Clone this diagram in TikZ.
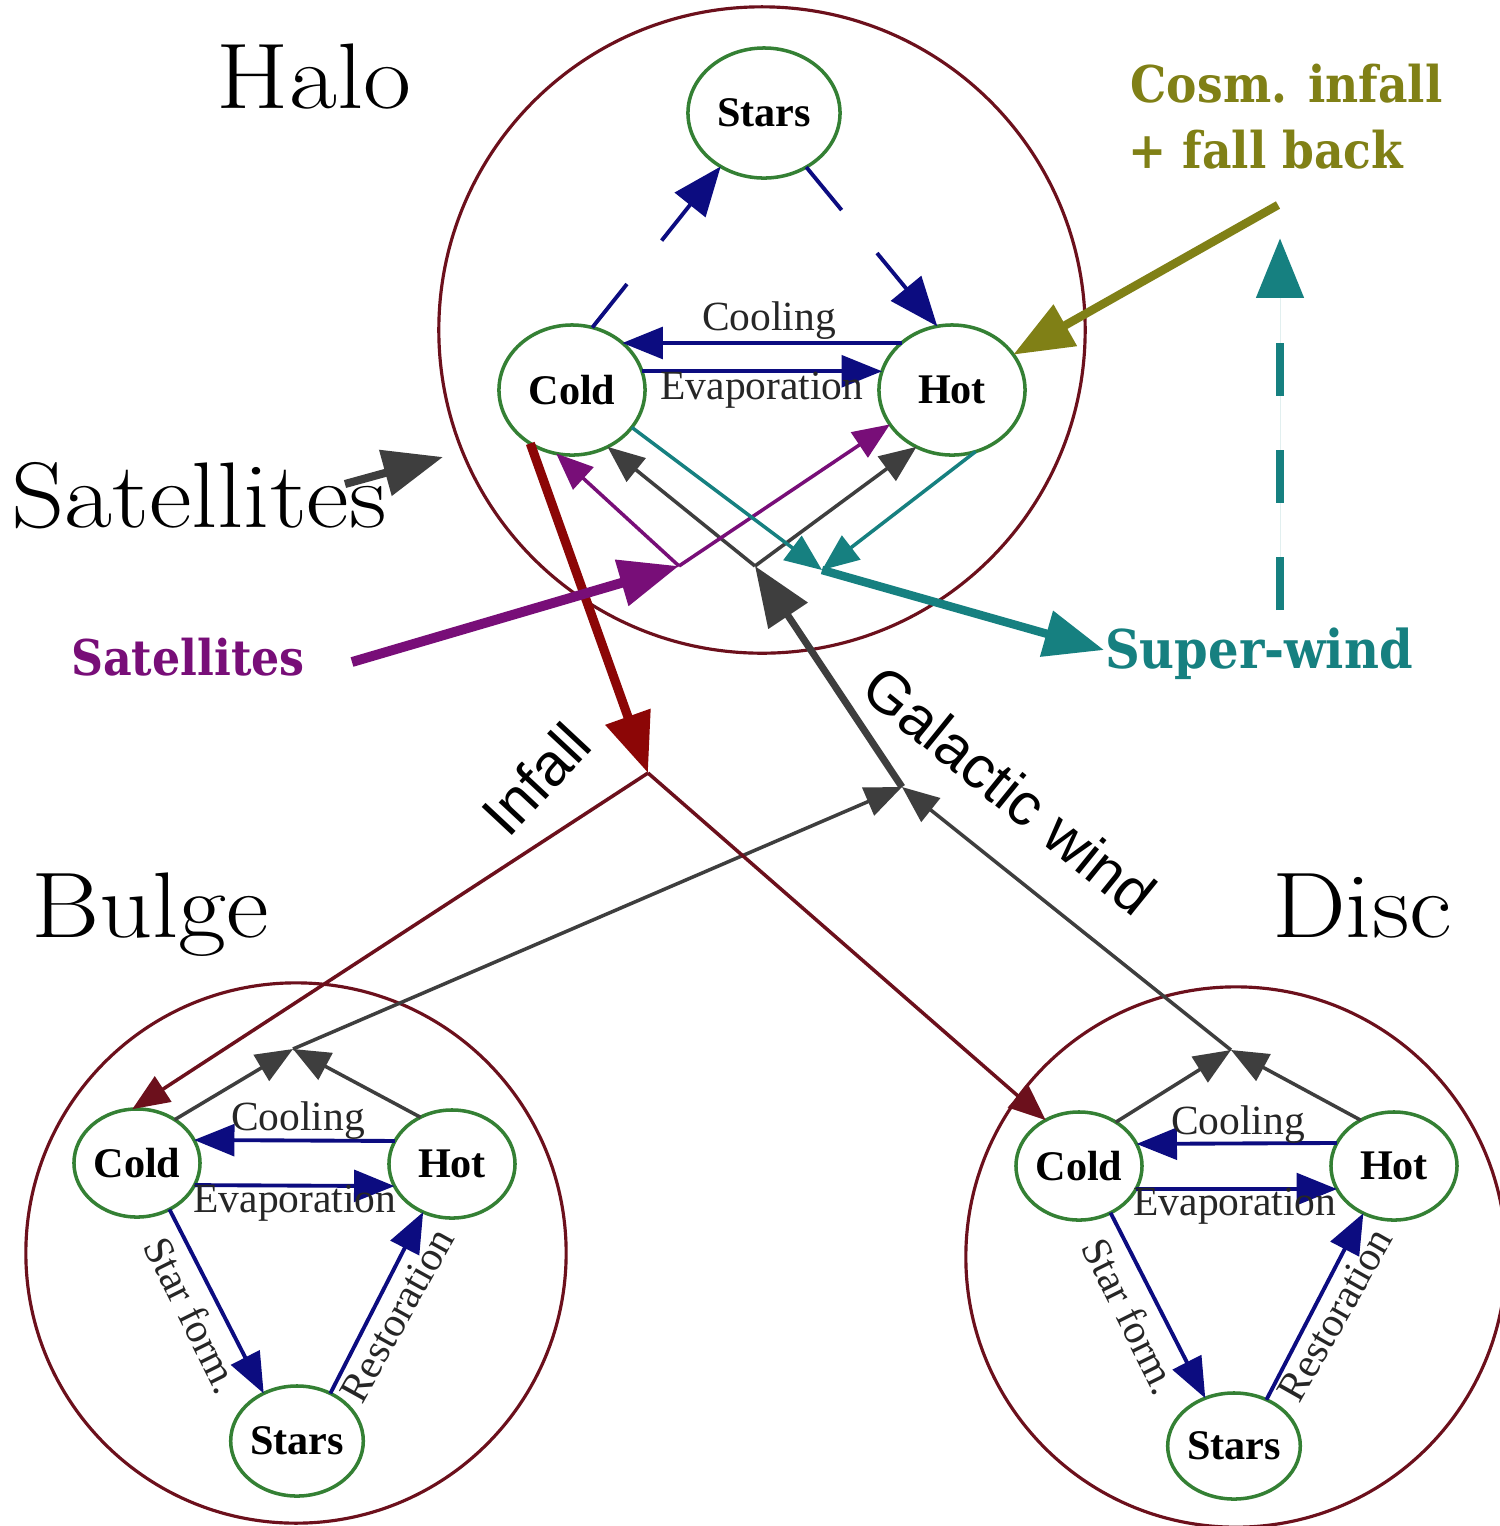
\documentclass[tikz,border=0pt]{standalone}
\usepackage{fontspec}
\usetikzlibrary{arrows.meta,shapes.geometric,calc}
\newfontfamily\tms{Liberation Serif}
\newfontfamily\arl{Liberation Sans}
\newfontfamily\djv[FakeStretch=0.9]{DejaVu Serif}
\newfontfamily\lmw[FakeStretch=1.12]{Latin Modern Roman}
\definecolor{regred}{RGB}{108,16,28}
\definecolor{infred}{RGB}{140,6,6}
\definecolor{compgreen}{RGB}{52,128,52}
\definecolor{navyc}{RGB}{12,12,128}
\definecolor{olivec}{RGB}{128,128,22}
\definecolor{tealc}{RGB}{22,128,128}
\definecolor{purplec}{RGB}{120,14,120}
\definecolor{grayc}{RGB}{62,62,62}
\tikzset{
  regionc/.style={circle, draw=regred, line width=0.9pt, inner sep=0pt, outer sep=0pt},
  comp/.style={ellipse, draw=compgreen, line width=1pt, inner sep=0pt, outer sep=0pt,
    font=\tms\bfseries\fontsize{12}{14}\selectfont},
  halocomp/.style={comp, minimum width=1.46cm, minimum height=1.30cm},
  smallcomp/.style={comp, minimum width=1.26cm, minimum height=1.08cm},
  flow/.style={draw=navyc, line width=1.1pt, -{Triangle[length=11.5pt,width=9pt]}},
  flowplain/.style={draw=navyc, line width=1.1pt},
  thinlink/.style={line width=1pt, -{Triangle[length=10.5pt,width=8.5pt]}},
  thicklink/.style={line width=2.4pt, -{Triangle[length=17pt,width=13pt]}},
  flowlabel/.style={font=\tms\fontsize{11.8}{14}\selectfont, text=black!85, inner sep=0pt},
  biglabel/.style={font=\lmw\fontsize{26.5}{30}\selectfont, anchor=base, inner sep=0pt},
  boldlabel/.style={font=\djv\bfseries\fontsize{14}{16}\selectfont, inner sep=0pt, anchor=base},
  windlabel/.style={font=\arl\fontsize{17}{20}\selectfont, inner sep=0pt},
}
\begin{document}
\begin{tikzpicture}[x=0.01cm,y=-0.01cm]
\useasboundingbox (0,0) rectangle (1500,1526);
\fill[white] (0,0) rectangle (1500,1526);

% regions
\node[regionc, minimum size=6.46cm] (halo) at (762,330) {};
\node[regionc, minimum size=5.40cm] (bulge) at (296,1253) {};
\node[regionc, minimum size=5.40cm] (disc) at (1236,1257) {};

% components
\node[halocomp, minimum width=1.52cm] (hs) at (764,113) {Stars};
\node[halocomp] (hc) at (572,390) {Cold};
\node[halocomp] (hh) at (952,390) {Hot};
\node[smallcomp] (bc) at (137,1163) {Cold};
\node[smallcomp] (bh) at (452,1164) {Hot};
\node[smallcomp, minimum height=1.10cm] (bs) at (297,1441) {Stars};
\node[smallcomp] (dc) at (1079,1166) {Cold};
\node[smallcomp] (dh) at (1394,1166) {Hot};
\node[smallcomp, minimum height=1.06cm] (ds) at (1234,1446) {Stars};

% junctions and free ends
\coordinate (jp) at (679,566);
\coordinate (jg) at (755,566);
\coordinate (jt) at (822,570);
\coordinate (jinf) at (648,773);
\coordinate (jgw) at (902,787);
\coordinate (jb) at (293,1049);
\coordinate (jd) at (1231,1050);
\coordinate (satsrc) at (352,662);
\coordinate (cosmsrc) at (1278,205);
\coordinate (swtip) at (1104,650);
\coordinate (fbsrc) at (1280,610);
\coordinate (fbtip) at (1280,238);
\coordinate (satb0) at (345,484);
\coordinate (satb1) at (443,457);

% ---- halo internal flows
\draw[flow] (hh.137) -- (hc.43);
\draw[flow] (hc.15) -- (hh.165);
\draw[flowplain] (hc.72) -- ($(hc.72)!0.27!(hs.231)$);
\draw[flow, -{Triangle[length=14pt,width=11pt]}] ($(hc.72)!0.54!(hs.231)$) -- (hs.231);
\draw[flowplain] (hs.-52) -- ($(hs.-52)!0.27!(hh.103)$);
\draw[flow, -{Triangle[length=14pt,width=11pt]}] ($(hs.-52)!0.54!(hh.103)$) -- (hh.103);
\node[flowlabel] (hcool) at (769,321) {Cooling};
\node[flowlabel] (hevap) at (762,390) {Evaporation};

% ---- bulge internal flows
\draw[flow] (bh.158) -- (bc.22);
\draw[flow] (bc.-21) -- (bh.201);
\draw[flow] (bc.-55) -- (bs.125);
\draw[flow] (bs.55) -- (bh.239);
\node[flowlabel] (bcool) at (298,1121) {Cooling};
\node[flowlabel] (bevap) at (295,1203) {Evaporation};
\node[flowlabel, rotate=-63.6] (bsf) at (193,1315) {Star form.};
\node[flowlabel, rotate=61] (bres) at (397,1315) {Restoration};

% ---- disc internal flows
\draw[flow] (dh.158) -- (dc.21);
\draw[flow] (dc.-22) -- (dh.202);
\draw[flow] (dc.-56) -- (ds.121);
\draw[flow] (ds.55) -- (dh.237);
\node[flowlabel] (dcool) at (1238,1125) {Cooling};
\node[flowlabel] (devap) at (1235,1206) {Evaporation};
\node[flowlabel, rotate=-63.6] (dsf) at (1131,1316) {Star form.};
\node[flowlabel, rotate=60.5] (dres) at (1335,1315) {Restoration};

% ---- galactic wind (gray)
\draw[thinlink, draw=grayc, fill=grayc] (bc.49) -- (jb);
\draw[thinlink, draw=grayc, fill=grayc] (bh.124) -- (jb);
\draw[thinlink, draw=grayc, fill=grayc] (dc.50) -- (jd);
\draw[thinlink, draw=grayc, fill=grayc] (dh.126) -- (jd);
\draw[thinlink, draw=grayc, fill=grayc] (jb) -- (jgw);
\draw[thinlink, draw=grayc, fill=grayc] (jd) -- (jgw);
\draw[thicklink, line width=2pt, draw=grayc, fill=grayc] (jgw) -- (jg);
\draw[thinlink, draw=grayc, fill=grayc] (jg) -- (hc.-58);
\draw[thinlink, draw=grayc, fill=grayc] (jg) -- (hh.238);

% ---- infall (dark red)
\draw[thicklink, line width=2.6pt, draw=infred, fill=infred] (hc.232) -- (jinf);
\draw[thinlink, draw=regred, fill=infred] (jinf) -- (bc.95);
\draw[thinlink, draw=regred, fill=infred] (jinf) -- (dc.126);

% ---- satellites (purple)
\draw[thicklink, line width=2.8pt, draw=purplec, fill=purplec] (satsrc) -- (jp);
\draw[thinlink, draw=purplec, fill=purplec] (jp) -- (hc.256);
\draw[thinlink, draw=purplec, fill=purplec] (jp) -- (hh.209);

% ---- super-wind (teal)
\draw[thinlink, draw=tealc, fill=tealc] (hc.-32) -- (jt);
\draw[thinlink, draw=tealc, fill=tealc] (hh.-69) -- (jt);
\draw[thicklink, draw=tealc, fill=tealc] (jt) -- (swtip);
\draw[thicklink, draw=tealc, fill=tealc, dash pattern=on 15pt off 15.5pt] (fbsrc) -- (fbtip);

% ---- cosmological infall (olive)
\draw[thicklink, draw=olivec, fill=olivec] (cosmsrc) -- (hh.30);

% ---- black satellites pointer
\draw[thicklink, line width=2.3pt, draw=grayc, fill=grayc] (satb0) -- (satb1);

% ---- labels
\node[biglabel] (thalo) at (314,108) {Halo};
\node[biglabel] (tbulge) at (150,937) {Bulge};
\node[biglabel] (tdisc) at (1362,937) {Disc};
\node[biglabel] (tsat) at (199,527) {Satellites};
\node[boldlabel, text=purplec] (tsatp) at (188,675) {Satellites};
\node[boldlabel, text=tealc, font=\djv\bfseries\fontsize{15.2}{17}\selectfont] (tsw) at (1259,668) {Super-wind};
\node[boldlabel, text=olivec, anchor=base west, font=\djv\bfseries\fontsize{14.4}{17}\selectfont] (tcosm1) at (1130,102) {Cosm. infall};
\node[boldlabel, text=olivec, anchor=base west, font=\djv\bfseries\fontsize{14.4}{17}\selectfont] (tcosm2) at (1128,168) {+ fall back};
\node[windlabel, rotate=47] (tinf) at (536,779) {Infall};
\node[windlabel, rotate=-39] (tgw) at (1010,790) {Galactic wind};
\end{tikzpicture}
\end{document}
